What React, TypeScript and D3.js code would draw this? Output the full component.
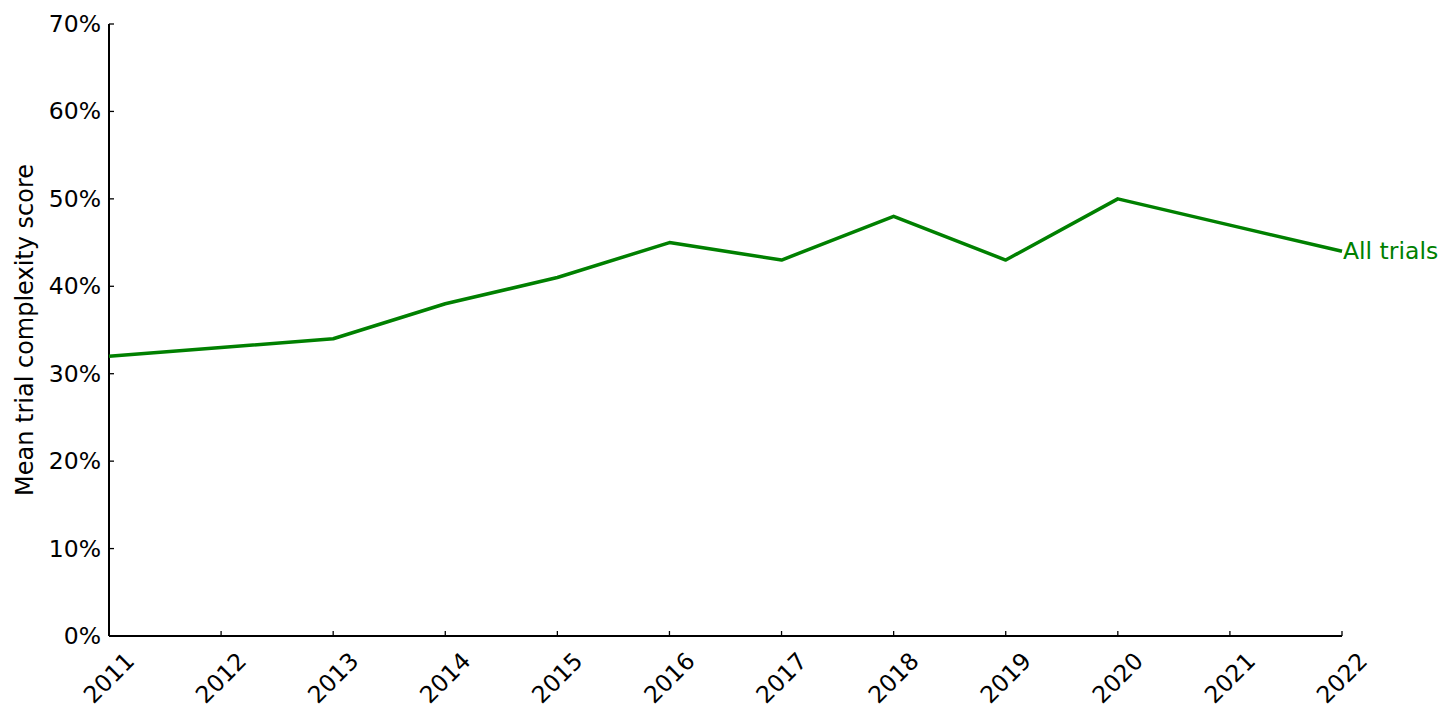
import React from "react";
import * as d3 from "d3";

const years = [2011, 2012, 2013, 2014, 2015, 2016, 2017, 2018, 2019, 2020, 2021, 2022];
const values = [32, 33, 34, 38, 41, 45, 43, 48, 43, 50, 47, 44];
const yTicks = [0, 10, 20, 30, 40, 50, 60, 70];
const seriesName = "All trials";
const yLabel = "Mean trial complexity score";

export default function App() {
  const W = 1456, H = 720;
  const left = 109, right = 1342, top = 24, bottom = 636;
  const x = d3.scaleLinear().domain([2011, 2022]).range([left, right]);
  const y = d3.scaleLinear().domain([0, 70]).range([bottom, top]);
  const line = d3.line<number>().x((_, i) => x(years[i])).y((d) => y(d));
  const font = "DejaVu Sans, sans-serif";
  const fs = 23.5;
  return (
    <svg width={W} height={H} style={{ position: "absolute", left: 0, top: 0, background: "#fff" }}>
      <g fontFamily={font} fontSize={fs} fill="#000">
        {yTicks.map((t) => (
          <g key={t}>
            <line x1={left} x2={left + 5} y1={y(t)} y2={y(t)} stroke="#000" strokeWidth={1.3} />
            <text x={left - 8} y={y(t)} textAnchor="end" dominantBaseline="central">{t}%</text>
          </g>
        ))}
        {years.map((yr) => (
          <g key={yr}>
            <line x1={x(yr)} x2={x(yr)} y1={bottom} y2={bottom - 5} stroke="#000" strokeWidth={1.3} />
            <text
              transform={`translate(${x(yr)},${bottom + 42}) rotate(-45)`}
              textAnchor="middle"
              dominantBaseline="central"
            >
              {yr}
            </text>
          </g>
        ))}
        <text transform={`translate(25,${(top + bottom) / 2}) rotate(-90)`} textAnchor="middle" dominantBaseline="central" fontSize={24}>
          {yLabel}
        </text>
      </g>
      <line x1={left} x2={left} y1={top} y2={bottom} stroke="#000" strokeWidth={2} />
      <line x1={left} x2={right} y1={bottom} y2={bottom} stroke="#000" strokeWidth={2} />
      <path d={line(values) || ""} fill="none" stroke="#008000" strokeWidth={3.5} strokeLinejoin="round" />
      <text x={x(2022) + 1} y={y(values[values.length - 1])} fontFamily={font} fontSize={fs} fill="#008000" dominantBaseline="central">
        {seriesName}
      </text>
    </svg>
  );
}
